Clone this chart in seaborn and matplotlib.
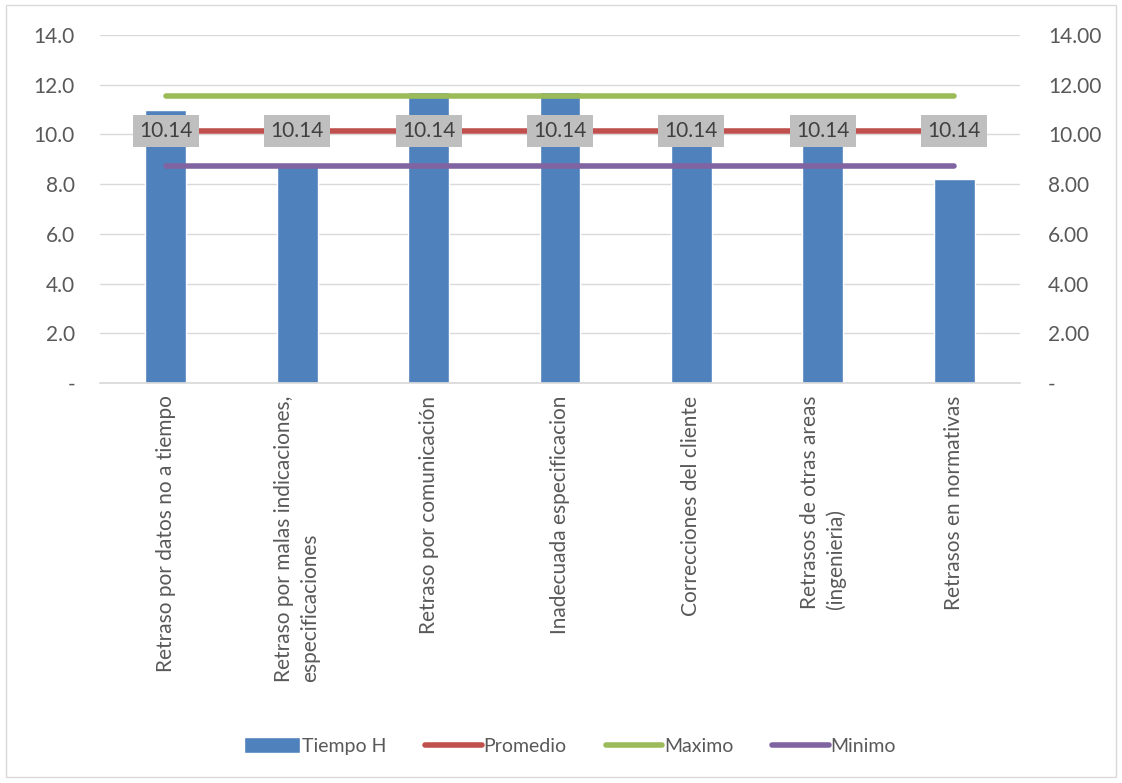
import matplotlib
matplotlib.use("Agg")
import matplotlib.pyplot as plt
import seaborn as sns
import pandas as pd
import numpy as np
from matplotlib.patches import Rectangle
from matplotlib.lines import Line2D
from matplotlib.ticker import FixedLocator, FuncFormatter

categories = [
    "Retraso por datos no a tiempo",
    "Retraso por malas indicaciones,\nespecificaciones",
    "Retraso por comunicación",
    "Inadecuada especificacion",
    "Correcciones del cliente",
    "Retrasos de otras areas\n(ingenieria)",
    "Retrasos en normativas",
]
tiempo_h = [11.0, 8.75, 11.7, 11.7, 9.8, 9.8, 8.2]
promedio = [10.14] * 7
maximo = [11.55] * 7
minimo = [8.73] * 7
ticks = [0, 2, 4, 6, 8, 10, 12, 14]

sns.set_theme(style="white")
plt.rcParams['font.family'] = ['Lato', 'DejaVu Sans']

fig = plt.figure(figsize=(11.22, 7.83), dpi=100)
ax = fig.add_axes([100/1122, 1-383/783, 920/1122, 348/783])

df = pd.DataFrame({"cat": categories, "val": tiempo_h})
sns.barplot(data=df, x="cat", y="val", color="#4F81BD", width=0.31,
            saturation=1, ax=ax, zorder=2)

xs = np.arange(len(categories))
sns.lineplot(x=xs, y=maximo, color="#9BBB59", lw=4, ax=ax, zorder=3,
             solid_capstyle="round")
sns.lineplot(x=xs, y=promedio, color="#C0504D", lw=4, ax=ax, zorder=3,
             solid_capstyle="round")
sns.lineplot(x=xs, y=minimo, color="#8064A2", lw=4, ax=ax, zorder=3,
             solid_capstyle="round")

for x, v in zip(xs, promedio):
    ax.text(x, v, f"{v:.2f}", ha="center", va="center", fontsize=15,
            color="#404040", zorder=5,
            bbox=dict(boxstyle="square,pad=0.3", facecolor="#BFBFBF",
                      edgecolor="none"))

ax.set_xlim(-0.5, 6.5)
ax.set_ylim(0, 14)
ax.yaxis.set_major_locator(FixedLocator(ticks))
ax.yaxis.set_major_formatter(FuncFormatter(lambda v, p: "-" if v == 0 else f"{v:.1f}"))
ax.grid(axis="y", color="#D9D9D9", lw=1, zorder=0)
ax.set_axisbelow(True)
for s in ["top", "right", "left"]:
    ax.spines[s].set_visible(False)
ax.spines["bottom"].set_color("#D9D9D9")
ax.set_xlabel("")
ax.set_ylabel("")
ax.tick_params(axis="y", length=0, labelsize=15, labelcolor="#595959", pad=18)
ax.tick_params(axis="x", length=0, labelsize=15, labelcolor="#595959", pad=9)
ax.set_xticks(xs)
ax.set_xticklabels(categories, rotation=90, va="top", ha="center",
                   multialignment="left", linespacing=1.35)

ax2 = ax.twinx()
ax2.set_ylim(0, 14)
ax2.yaxis.set_major_locator(FixedLocator(ticks))
ax2.yaxis.set_major_formatter(FuncFormatter(lambda v, p: "-" if v == 0 else f"{v:.2f}"))
for s in ax2.spines.values():
    s.set_visible(False)
ax2.tick_params(axis="y", length=0, labelsize=15, labelcolor="#595959", pad=20)
ax2.grid(False)

handles = [
    Rectangle((0, 0), 1, 1, facecolor="#4F81BD"),
    Line2D([0], [0], color="#C0504D", lw=4, solid_capstyle="round"),
    Line2D([0], [0], color="#9BBB59", lw=4, solid_capstyle="round"),
    Line2D([0], [0], color="#8064A2", lw=4, solid_capstyle="round"),
]
fig.legend(handles, ["Tiempo H", "Promedio", "Maximo", "Minimo"],
           loc="center", bbox_to_anchor=(570/1122, 1-746/783), ncol=4,
           frameon=False, fontsize=14, labelcolor="#595959",
           handlelength=2.9, handletextpad=0.1, columnspacing=2.0,
           handleheight=0.9)

fig.add_artist(Rectangle((6/1122, 6/783), 1110/1122, 772/783,
                         transform=fig.transFigure, fill=False,
                         edgecolor="#D9D9D9", lw=1))

fig.savefig("out.png", dpi=100)
